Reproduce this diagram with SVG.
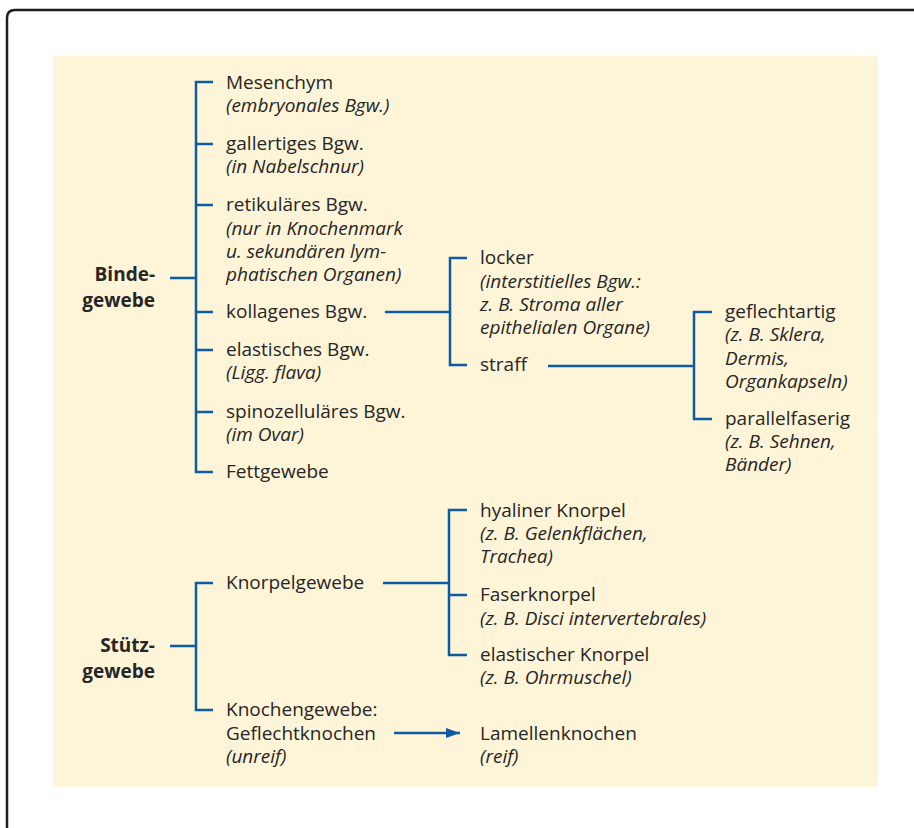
<svg xmlns="http://www.w3.org/2000/svg" width="914" height="828" viewBox="0 0 914 828">
<style>
text{font-family:"Open Sans","Noto Sans","Liberation Sans",sans-serif;font-size:19px;fill:#262626}
.i{font-style:italic}
.b{font-weight:bold;text-anchor:end}
.c{fill:none;stroke:#0d5ca3;stroke-width:2.5}
</style>
<defs>
<marker id="ah" markerWidth="14" markerHeight="10" refX="14" refY="5" orient="auto" markerUnits="userSpaceOnUse"><path d="M0,0 L14,5 L0,10 Z" fill="#0d5ca3"/></marker>
</defs>
<path d="M7,828 V18 Q7,10 15,10 H914" fill="none" stroke="#1e1e1e" stroke-width="2.5"/>
<rect x="53" y="56" width="825" height="731" fill="#fef4d7"/>
<g id="connectors">
<path class="c" d="M213,82 H196 V472 H213 M196,144 H213 M196,205 H213 M196,312 H213 M196,350 H213 M196,412 H213 M170,278 H196"/>
<path class="c" d="M385,312 H450 M467,258 H450 V365 H467"/>
<path class="c" d="M548,366 H694 M712,312 H694 V419 H712"/>
<path class="c" d="M213,583 H196 V710 H213 M170,646 H196"/>
<path class="c" d="M383,583 H449 M467,510 H449 V655 H467 M449,595 H467"/>
<path class="c" d="M394,733 H460" marker-end="url(#ah)"/>
</g>
<g id="bindegewebe"><text class="b" x="155" y="281">Binde-</text><text class="b" x="155" y="307">gewebe</text></g>
<g id="mesenchym"><text x="226" y="89">Mesenchym</text><text class="i" x="226" y="112">(embryonales Bgw.)</text></g>
<g id="gallertig"><text x="226" y="150">gallertiges Bgw.</text><text class="i" x="226" y="173">(in Nabelschnur)</text></g>
<g id="retikulaer"><text x="226" y="211">retikuläres Bgw.</text><text class="i" x="226" y="234.5">(nur in Knochenmark</text><text class="i" x="226" y="258">u. sekundären lym-</text><text class="i" x="226" y="281">phatischen Organen)</text></g>
<g id="kollagen"><text x="226" y="318">kollagenes Bgw.</text></g>
<g id="elastisch"><text x="226" y="356">elastisches Bgw.</text><text class="i" x="226" y="379">(Ligg. flava)</text></g>
<g id="spinozell"><text x="226" y="418">spinozelluläres Bgw.</text><text class="i" x="226" y="441">(im Ovar)</text></g>
<g id="fett"><text x="226" y="478">Fettgewebe</text></g>
<g id="locker"><text x="480" y="264">locker</text><text class="i" x="480" y="287.5">(interstitielles Bgw.:</text><text class="i" x="480" y="311">z. B. Stroma aller</text><text class="i" x="480" y="334">epithelialen Organe)</text></g>
<g id="straff"><text x="480" y="371">straff</text></g>
<g id="geflechtartig"><text x="725" y="318">geflechtartig</text><text class="i" x="725" y="341">(z. B. Sklera,</text><text class="i" x="725" y="364.5">Dermis,</text><text class="i" x="725" y="388">Organkapseln)</text></g>
<g id="parallelfaserig"><text x="725" y="425">parallelfaserig</text><text class="i" x="725" y="448">(z. B. Sehnen,</text><text class="i" x="725" y="471">Bänder)</text></g>
<g id="stuetzgewebe"><text class="b" x="155" y="652">Stütz-</text><text class="b" x="155" y="678">gewebe</text></g>
<g id="knorpelgewebe"><text x="226" y="589">Knorpelgewebe</text></g>
<g id="knochengewebe"><text x="226" y="716">Knochengewebe:</text><text x="226" y="740">Geflechtknochen</text><text class="i" x="226" y="763">(unreif)</text></g>
<g id="hyalin"><text x="480" y="517">hyaliner Knorpel</text><text class="i" x="480" y="540">(z. B. Gelenkflächen,</text><text class="i" x="480" y="563">Trachea)</text></g>
<g id="faserknorpel"><text x="480" y="601">Faserknorpel</text><text class="i" x="480" y="624.5">(z. B. Disci intervertebrales)</text></g>
<g id="elastknorpel"><text x="480" y="661">elastischer Knorpel</text><text class="i" x="480" y="684">(z. B. Ohrmuschel)</text></g>
<g id="lamellen"><text x="480" y="740">Lamellenknochen</text><text class="i" x="480" y="763">(reif)</text></g>
</svg>
